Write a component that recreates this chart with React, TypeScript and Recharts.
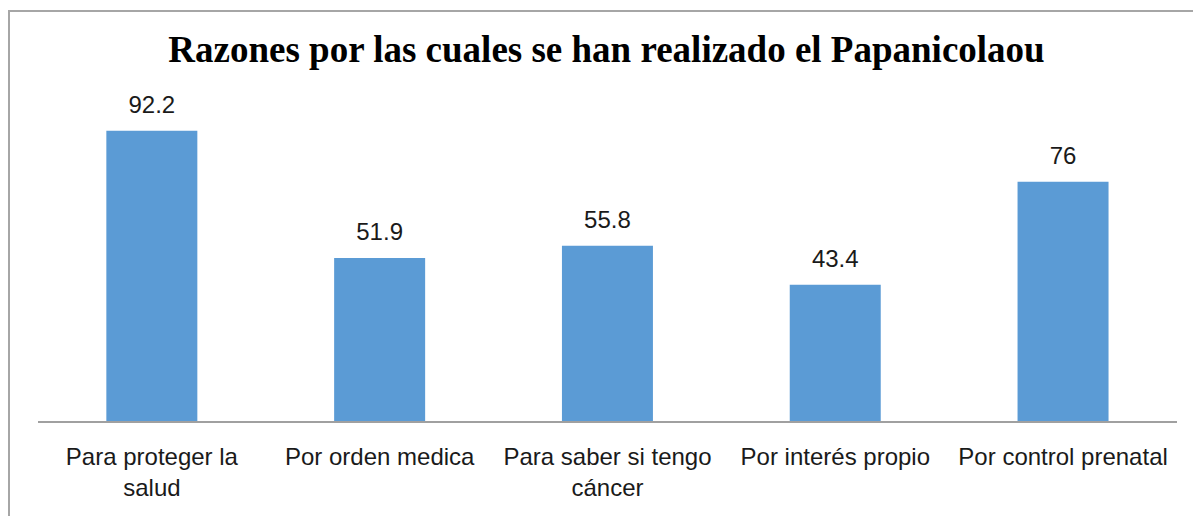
import React from 'react';
import { BarChart, Bar, XAxis, YAxis, LabelList } from 'recharts';

const categories = [
  'Para proteger la salud',
  'Por orden medica',
  'Para saber si tengo cáncer',
  'Por interés propio',
  'Por control prenatal',
];
const values = [92.2, 51.9, 55.8, 43.4, 76];
const title = 'Razones por las cuales se han realizado el Papanicolaou';

const data = categories.map((c, i) => ({ name: c, value: values[i] }));

const FONT = '"Liberation Sans", Arial, sans-serif';
const TICK_SIZE = 24;
const MAX_W = 224;

let ctx: CanvasRenderingContext2D | null = null;
function measure(s: string): number {
  if (!ctx) {
    const c = document.createElement('canvas');
    ctx = c.getContext('2d');
  }
  if (!ctx) return s.length * TICK_SIZE * 0.5;
  ctx.font = `${TICK_SIZE}px "Liberation Sans", Arial, sans-serif`;
  return ctx.measureText(s).width;
}

function wrap(s: string): string[] {
  const words = s.split(' ');
  const lines: string[] = [];
  let cur = '';
  for (const w of words) {
    const t = cur ? cur + ' ' + w : w;
    if (cur && measure(t) > MAX_W) {
      lines.push(cur);
      cur = w;
    } else {
      cur = t;
    }
  }
  if (cur) lines.push(cur);
  return lines;
}

const CategoryTick = (props: any) => {
  const { x, y, payload } = props;
  const lines = wrap(String(payload.value));
  return (
    <text
      x={x}
      y={y}
      textAnchor="middle"
      style={{ fontFamily: FONT, fontSize: TICK_SIZE, fill: '#1a1a1a' }}
    >
      {lines.map((l, i) => (
        <tspan key={i} x={x} y={y + 35 + i * 31}>
          {l}
        </tspan>
      ))}
    </text>
  );
};

export default function App() {
  return (
    <div style={{ position: 'absolute', left: 0, top: 0, width: 1193, height: 516, background: '#fff' }}>
      <div
        style={{
          position: 'absolute',
          left: 8,
          top: 10,
          width: 1185,
          height: 506,
          borderTop: '2px solid #a6a6a6',
          borderLeft: '2px solid #a6a6a6',
          boxSizing: 'border-box',
        }}
      />
      <div
        style={{
          position: 'absolute',
          left: 0,
          top: 31,
          width: 1213,
          textAlign: 'center',
          fontFamily: '"Liberation Serif", "Times New Roman", serif',
          fontWeight: 'bold',
          fontSize: 37,
          lineHeight: '37px',
          color: '#000',
          whiteSpace: 'nowrap',
        }}
      >
        {title}
      </div>
      <div style={{ position: 'absolute', left: 0, top: 0 }}>
        <BarChart
          width={1193}
          height={516}
          data={data}
          margin={{ top: 106, right: 16, bottom: 14, left: 38 }}
          barCategoryGap="30%"
        >
          <YAxis hide domain={[0, 100]} />
          <XAxis
            dataKey="name"
            height={80}
            tickLine={false}
            axisLine={{ stroke: '#a0a0a0', strokeWidth: 2 }}
            tick={<CategoryTick />}
            interval={0}
          />
          <Bar dataKey="value" fill="#5B9BD5" isAnimationActive={false}>
            <LabelList
              dataKey="value"
              position="top"
              offset={18}
              style={{ fontFamily: FONT, fontSize: 24, fill: '#1a1a1a' }}
            />
          </Bar>
        </BarChart>
      </div>
    </div>
  );
}
